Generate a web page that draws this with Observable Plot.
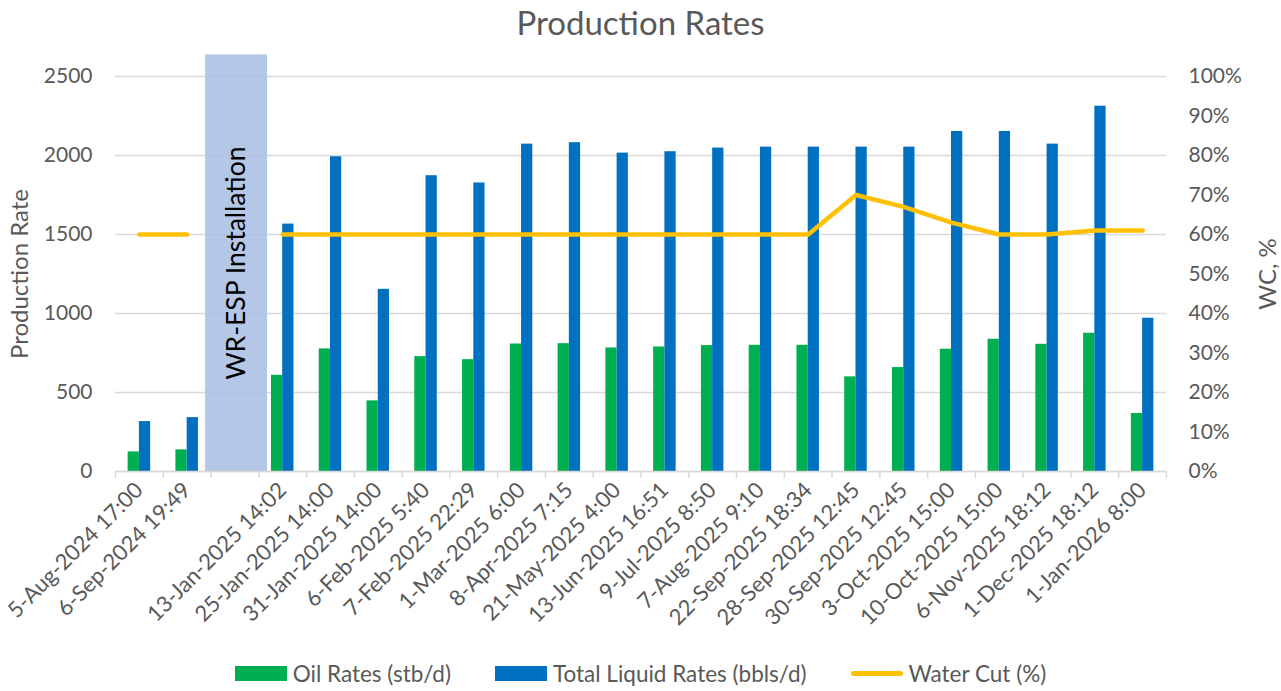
<!DOCTYPE html>
<html><head><meta charset="utf-8">
<script src="https://cdn.jsdelivr.net/npm/d3@7"></script>
<script src="https://cdn.jsdelivr.net/npm/@observablehq/plot@0.6"></script>
<style>
body{margin:0;background:#fff;font-family:Lato,"Open Sans",sans-serif;color:#595959;width:1281px;height:691px;overflow:hidden;}
#title{height:44px;line-height:44px;text-align:center;font-size:33px;color:#595959;}
#legend{display:flex;justify-content:center;align-items:center;height:35px;font-size:22.5px;color:#595959;}
.item{display:flex;align-items:center;margin:0 22px;}
.sw{width:52px;height:15px;margin-right:6px;}
.ln{width:52px;height:5px;border-radius:3px;margin-right:6px;}
</style></head><body>
<div id="title">Production Rates</div>
<div id="chart"></div>
<div id="legend"></div>
<script>
const categories = ["5-Aug-2024 17:00","6-Sep-2024 19:49","","13-Jan-2025 14:02","25-Jan-2025 14:00","31-Jan-2025 14:00","6-Feb-2025 5:40","7-Feb-2025 22:29","1-Mar-2025 6:00","8-Apr-2025 7:15","21-May-2025 4:00","13-Jun-2025 16:51","9-Jul-2025 8:50","7-Aug-2025 9:10","22-Sep-2025 18:34","28-Sep-2025 12:45","30-Sep-2025 12:45","3-Oct-2025 15:00","10-Oct-2025 15:00","6-Nov-2025 18:12","1-Dec-2025 18:12","1-Jan-2026 8:00"];
const oilRates = [124,137,null,609,776,447,727,708,807,809,782,788,797,799,799,599,658,774,837,805,875,367];
const liquidRates = [316,341,null,1566,1992,1153,1872,1826,2072,2081,2015,2024,2047,2053,2053,2053,2053,2152,2152,2072,2312,970];
const waterCut = [60,60,null,60,60,60,60,60,60,60,60,60,60,60,60,70,67,63,60,60,61,61];
const leftTicks = [0,500,1000,1500,2000,2500];
const rightTicks = [0,10,20,30,40,50,60,70,80,90,100];
const installation = [{cat:"", label:"WR-ESP Installation", top:2637}];
const seriesNames = ["Oil Rates (stb/d)","Total Liquid Rates (bbls/d)","Water Cut (%)"];
const seriesColors = ["#00b050","#0070c0","#ffc000"];
const yTitle = "Production Rate", y2Title = "WC, %";

const W=1281,H=612,mL=115,mR=115,mT=32,mB=185;
const step=(W-mL-mR)/categories.length, half=step/2, bw=11.25;
const pctScale = 2500/100;
const rows = categories.map((c,i)=>({c, oil:oilRates[i], liq:liquidRates[i], wc:waterCut[i]}));
const bars = rows.filter(d=>d.oil!=null);

const chart = Plot.plot({
  width:W, height:H, marginLeft:mL, marginRight:mR, marginTop:mT, marginBottom:mB,
  x:{type:"band", domain:categories, padding:0, round:false},
  y:{domain:[0,2500]},
  style:{fontFamily:"Lato, 'Open Sans', sans-serif", fontSize:"21px", color:"#595959", background:"#fff"},
  marks:[
    Plot.gridY(leftTicks,{stroke:"#d9d9d9", strokeOpacity:1, strokeWidth:1.3}),
    Plot.barY(installation,{x:"cat", y:"top", fill:"rgb(167,189,227)", fillOpacity:0.85, insetLeft:-5.5, insetRight:-8.7}),
    Plot.text(installation,{x:"cat", y:d=>d.top/2, text:"label", rotate:-90, fontSize:26.5, fill:"#000", dx:2}),
    Plot.barY(bars,{x:"c", y:"oil", fill:seriesColors[0], insetLeft:half-bw, insetRight:half}),
    Plot.barY(bars,{x:"c", y:"liq", fill:seriesColors[1], insetLeft:half, insetRight:half-bw}),
    Plot.line(rows,{x:"c", y:d=>d.wc==null?NaN:d.wc*pctScale, stroke:seriesColors[2], strokeWidth:4.5, strokeLinecap:"round", strokeLinejoin:"round"}),
    Plot.ruleY([0],{stroke:"#d9d9d9", strokeWidth:1.5}),
    Plot.axisX({tickSize:7, tickFormat:()=>"", dx:-half, stroke:"#d9d9d9", strokeWidth:1.5, label:null}),
    Plot.axisX([categories[categories.length-1]],{tickSize:7, tickFormat:()=>"", dx:half, stroke:"#d9d9d9", strokeWidth:1.5, label:null}),
    Plot.axisX({tickSize:0, tickPadding:15, tickRotate:-45, fontSize:22, fill:"#595959", label:null}),
    Plot.axisY(leftTicks,{anchor:"left", tickSize:0, tickPadding:23, tickFormat:d=>String(d), fill:"#595959", label:null}),
    Plot.axisY(rightTicks.map(d=>d*pctScale),{anchor:"right", tickSize:0, tickPadding:22, tickFormat:d=>Math.round(d/pctScale)+"%", fill:"#595959", label:null}),
    Plot.text([yTitle],{frameAnchor:"left", textAnchor:"middle", dx:-95, rotate:-90, fontSize:24, fill:"#595959", text:d=>d}),
    Plot.text([y2Title],{frameAnchor:"right", textAnchor:"middle", dx:102, rotate:-90, fontSize:24, fill:"#595959", text:d=>d})
  ]
});
document.getElementById("chart").appendChild(chart);

const lg = document.getElementById("legend");
seriesNames.forEach((n,i)=>{
  const it=document.createElement("div"); it.className="item";
  const s=document.createElement("div"); s.className = i<2?"sw":"ln"; s.style.background=seriesColors[i];
  const t=document.createElement("span"); t.textContent=n;
  it.appendChild(s); it.appendChild(t); lg.appendChild(it);
});
</script>
</body></html>
